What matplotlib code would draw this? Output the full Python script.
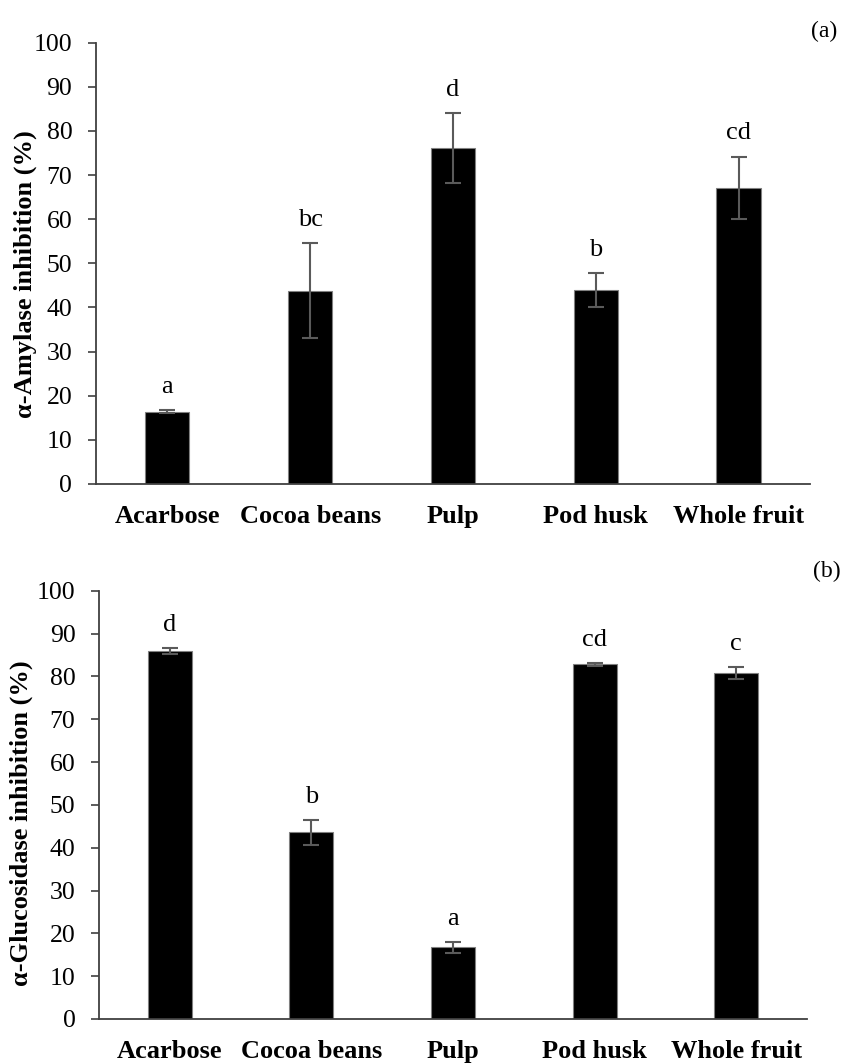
import matplotlib
matplotlib.use("Agg")
import matplotlib.pyplot as plt

plt.rcParams['font.family'] = ['Liberation Serif', 'DejaVu Serif']

samples = ['Acarbose', 'Cocoa beans', 'Pulp', 'Pod husk', 'Whole fruit']

amylase = [16.4, 43.8, 76.1, 43.9, 67.1]
amylase_err = [0.3, 10.8, 7.9, 3.9, 7.1]
amylase_letters = ['a', 'bc', 'd', 'b', 'cd']

glucosidase = [85.9, 43.6, 16.7, 82.8, 80.8]
glucosidase_err = [0.7, 2.9, 1.3, 0.3, 1.5]
glucosidase_letters = ['d', 'b', 'a', 'cd', 'c']

yticks = list(range(0, 101, 10))


def panel(ax, vals, errs, letters, ylabel, label_xy):
    x = list(range(len(samples)))
    ax.bar(x, vals, width=0.31, color='black', edgecolor='#808080', linewidth=0.8,
           yerr=errs, capsize=5.5,
           error_kw=dict(ecolor='#5a5a5a', elinewidth=1.5, capthick=1.5))
    for xi, v, e, t in zip(x, vals, errs, letters):
        ax.text(xi, v + e + 5.3, t, ha='center', va='center', fontsize=19)
    ax.set_xlim(-0.5, 4.5)
    ax.set_ylim(0, 100)
    ax.set_yticks(yticks)
    ax.set_xticks(x)
    ax.set_xticklabels(samples, fontweight='bold', fontsize=19)
    ax.tick_params(axis='x', length=0, pad=15)
    ax.tick_params(axis='y', length=6, width=1.2, color='#404040', labelsize=18.5, pad=11)
    ax.set_ylabel(ylabel, fontweight='bold', fontsize=19)
    ax.yaxis.set_label_coords(*label_xy)
    for s in ['top', 'right']:
        ax.spines[s].set_visible(False)
    for s in ['left', 'bottom']:
        ax.spines[s].set_color('#404040')
        ax.spines[s].set_linewidth(1.3)


fig = plt.figure(figsize=(8.44, 10.63), dpi=100)
ax1 = fig.add_axes([0.1137, 0.5447, 0.846, 0.4151])
ax2 = fig.add_axes([0.1173, 0.0414, 0.8389, 0.4029])

panel(ax1, amylase, amylase_err, amylase_letters, 'α-Amylase inhibition (%)', (-0.083, 0.475))
panel(ax2, glucosidase, glucosidase_err, glucosidase_letters, 'α-Glucosidase inhibition (%)', (-0.093, 0.458))

fig.text(0.992, 0.970, '(a)', ha='right', va='center', fontsize=17)
fig.text(0.996, 0.462, '(b)', ha='right', va='center', fontsize=17)

fig.savefig('out.png', dpi=100)
